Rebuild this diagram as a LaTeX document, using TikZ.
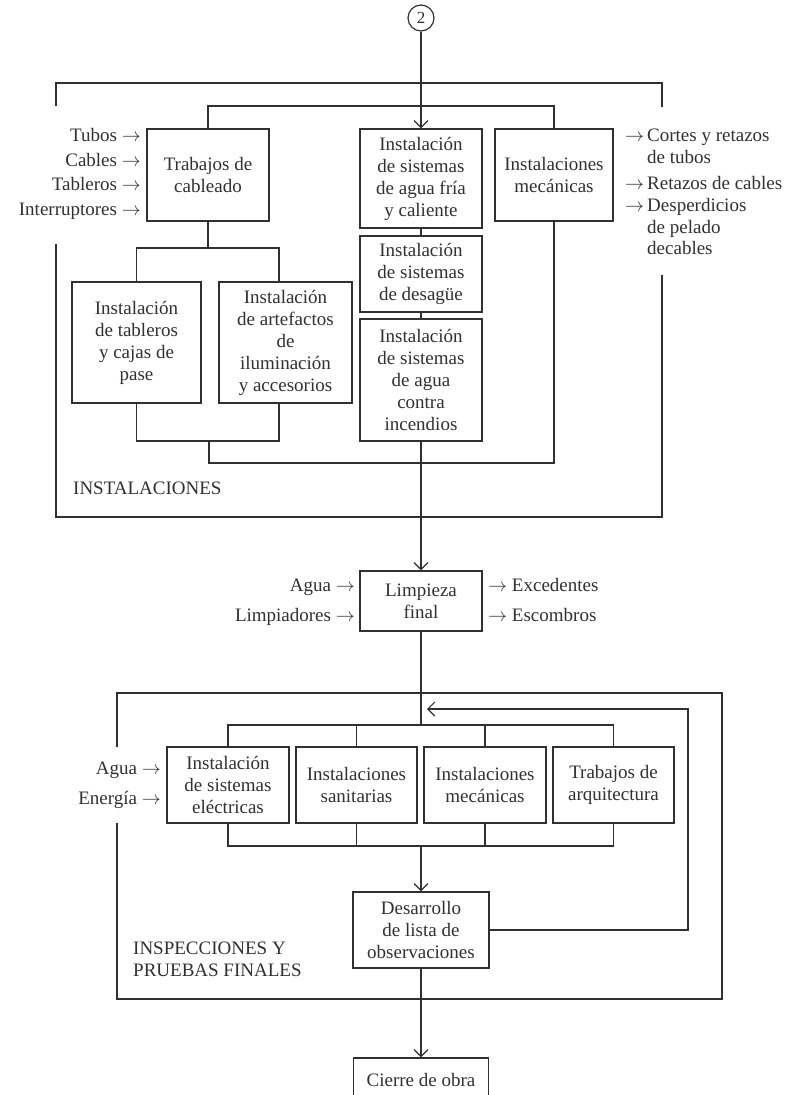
\documentclass[tikz,border=0pt]{standalone}
\usepackage{fontspec}
\setmainfont{Liberation Serif}
\usetikzlibrary{arrows.meta}
\definecolor{ink}{HTML}{303030}
\newcommand\diafont{\fontsize{19}{22}\selectfont}
\newcommand\flowarr{\scalebox{1.1}{$\rightarrow$}}
\tikzset{
  link/.style={draw=ink, line width=1.2pt},
  flow/.style={link, -{Straight Barb[length=7pt,width=14pt]}},
  stage/.style={draw=ink, line width=1.2pt, align=center, inner sep=0pt,
                text=ink, font=\diafont},
  lbl/.style={text=ink, inner sep=0pt, text height=12pt, text depth=4pt,
              font=\diafont},
  grp/.style={text=ink, inner sep=0pt, align=left, font=\diafont}
}
\begin{document}
\begin{tikzpicture}[x=1pt,y=-1pt]
\useasboundingbox (0,0) rectangle (791,1095);
\clip (0,0) rectangle (791,1095);

% ---------- INSTALACIONES ----------
\node[stage, circle, minimum size=26pt, font=\fontsize{17}{19}\selectfont] (two) at (421,18) {2};

\node[stage, minimum width=122pt, minimum height=92pt] (cab) at (208,175) {Trabajos de\\cableado};
\node[stage, minimum width=122pt, minimum height=99pt] (agua) at (421,178.5) {Instalación\\de sistemas\\de agua fría\\y caliente};
\node[stage, minimum width=122pt, minimum height=76pt] (desag) at (421,274) {Instalación\\de sistemas\\de desagüe};
\node[stage, minimum width=122pt, minimum height=122pt] (inc) at (421,380) {Instalación\\de sistemas\\de agua\\contra\\incendios};
\node[stage, minimum width=118pt, minimum height=92pt] (mec) at (554,175) {Instalaciones\\mecánicas};
\node[stage, minimum width=129pt, minimum height=121pt] (tab) at (136.5,342.5) {Instalación\\de tableros\\y cajas de\\pase};
\node[stage, minimum width=133pt, minimum height=121pt] (art) at (285.5,342.5) {Instalación\\de artefactos\\de\\iluminación\\y accesorios};

% inputs and outputs of the installation works
\node[lbl, anchor=east] (in1) at (141,137) {Tubos \flowarr};
\node[lbl, anchor=east] (in2) at (141,162) {Cables \flowarr};
\node[lbl, anchor=east] (in3) at (141,186) {Tableros \flowarr};
\node[lbl, anchor=east] (in4) at (141,211) {Interruptores \flowarr};

\node[lbl, anchor=west] (oa1) at (625,137) {\flowarr};
\node[lbl, anchor=west] (ot1) at (647,137) {Cortes y retazos};
\node[lbl, anchor=west] (ot1b) at (647,159) {de tubos};
\node[lbl, anchor=west] (oa2) at (625,185) {\flowarr};
\node[lbl, anchor=west] (ot2) at (647,185) {Retazos de cables};
\node[lbl, anchor=west] (oa3) at (625,207) {\flowarr};
\node[lbl, anchor=west] (ot3) at (647,207) {Desperdicios};
\node[lbl, anchor=west] (ot3b) at (647,229) {de pelado};
\node[lbl, anchor=west] (ot3c) at (647,250) {decables};

\node[grp, anchor=west] (g1) at (73,488) {INSTALACIONES};

% group frame
\coordinate (f1a) at (56,106);
\coordinate (f1b) at (662,83);
\coordinate (f1c) at (662,107);
\coordinate (f1d) at (56,244);
\coordinate (f1e) at (662,517);
\coordinate (f1f) at (662,275);
\draw[link] (f1a) |- (f1b) -- (f1c);
\draw[link] (f1d) |- (f1e) -- (f1f);

% connectors
\coordinate (bus1) at (0,106);
\coordinate (j1) at (0,248);
\coordinate (j2) at (0,441);
\coordinate (j2m) at (209,441);
\coordinate (j3) at (209,463);
\draw[link] (cab.north) -- (cab.north |- bus1) -- (mec.north |- bus1) -- (mec.north);
\draw[flow] (two) -- (agua);
\draw[link] (agua) -- (desag);
\draw[link] (desag) -- (inc);
\draw[link] (cab.south) -- (cab.south |- j1);
\draw[link] (tab.north) -- (tab.north |- j1) -- ([xshift=-6.5pt]art.north |- j1) -- ([xshift=-6.5pt]art.north);
\draw[link] (tab.south) -- (tab.south |- j2) -- ([xshift=-6.5pt]art.south |- j2) -- ([xshift=-6.5pt]art.south);
\draw[link] (j2m) -- (j3) -- (mec.south |- j3) -- (mec.south);

% ---------- LIMPIEZA FINAL ----------
\node[stage, minimum width=122pt, minimum height=60pt] (lim) at (421,601) {Limpieza\\final};
\draw[flow] (inc) -- (lim);
\node[lbl, anchor=east] (li1) at (355,587) {Agua \flowarr};
\node[lbl, anchor=east] (li2) at (355,617) {Limpiadores \flowarr};
\node[lbl, anchor=west] (lo1) at (488,587) {\flowarr\ Excedentes};
\node[lbl, anchor=west] (lo2) at (488,617) {\flowarr\ Escombros};

% ---------- INSPECCIONES Y PRUEBAS FINALES ----------
\node[stage, minimum width=122pt, minimum height=76pt] (e1) at (228,785) {Instalación\\de sistemas\\eléctricas};
\node[stage, minimum width=121pt, minimum height=76pt] (e2) at (356.5,785) {Instalaciones\\sanitarias};
\node[stage, minimum width=122pt, minimum height=76pt] (e3) at (485,785) {Instalaciones\\mecánicas};
\node[stage, minimum width=121pt, minimum height=76pt] (e4) at (613.5,785) {Trabajos de\\arquitectura};
\node[stage, minimum width=136pt, minimum height=76pt] (dev) at (421,930) {Desarrollo\\de lista de\\observaciones};
\node[stage, minimum width=135pt, minimum height=44pt] (cie) at (421,1080) {Cierre de obra};

\node[lbl, anchor=east] (ei1) at (161,770) {Agua \flowarr};
\node[lbl, anchor=east] (ei2) at (161,800) {Energía \flowarr};
\node[grp, anchor=west] (g2) at (133,959) {INSPECCIONES Y\\PRUEBAS FINALES};

\coordinate (f2a) at (117,747);
\coordinate (f2b) at (722,693);
\coordinate (f2c) at (117,999);
\coordinate (f2d) at (117,823);
\draw[link] (f2a) |- (f2b) |- (f2c) -- (f2d);

\coordinate (bus2) at (0,725);
\coordinate (bus3) at (0,846);
\coordinate (fb) at (688,709);
\draw[link] (lim.south) -- (lim.south |- bus2);
\draw[link] (e1.north) -- (e1.north |- bus2) -- (e4.north |- bus2) -- (e4.north);
\draw[link] (e2.north) -- (e2.north |- bus2);
\draw[link] (e3.north) -- (e3.north |- bus2);
\draw[link] (e1.south) -- (e1.south |- bus3) -- (e4.south |- bus3) -- (e4.south);
\draw[link] (e2.south) -- (e2.south |- bus3);
\draw[link] (e3.south) -- (e3.south |- bus3);
\draw[flow] (dev.north |- bus3) -- (dev.north);
\draw[flow] (dev.east) -| (fb) -- ([xshift=6pt]lim.south |- fb);
\draw[flow] (dev.south) -- (cie.north);
\end{tikzpicture}
\end{document}
